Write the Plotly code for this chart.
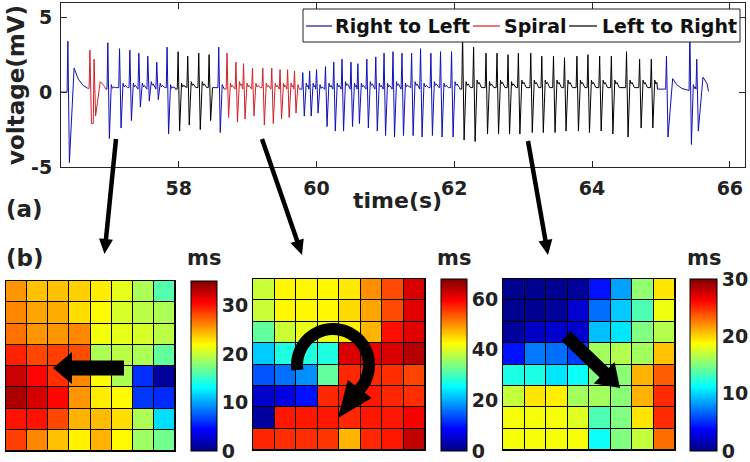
import math
import plotly.graph_objects as go

FONT = "DejaVu Sans"
W, H = 750, 462


def px(x):
    return x / W


def py(y):
    return 1 - y / H


# ---------------- Panel (a): voltage trace ----------------
# segments of the recording and the propagation mode of each
seg_start = [56.29, 56.68, 56.94, 57.95, 58.49, 58.66, 59.75, 62.08, 64.95]
seg_end = [56.68, 56.94, 57.95, 58.49, 58.66, 59.75, 62.08, 64.95, 65.69]
seg_mode = ["Right to Left", "Spiral", "Right to Left", "Left to Right", "Right to Left",
            "Spiral", "Right to Left", "Left to Right", "Right to Left"]
seg_v0 = [0.0, 0.25, 0.2, 0.2, 0.3, 0.2, 0.2, 0.2, 0.2]
seg_v1 = [0.25, 0.2, 0.2, 0.3, 0.2, 0.2, 0.2, 0.2, 0.05]

# beats: time of upstroke peak (s), peak (mV), trough (mV), after-bump (mV), slow decay flag
beat_t = [56.39, 56.71, 56.77, 56.97, 57.14, 57.29, 57.42, 57.55, 57.68, 57.83,
          57.99, 58.13, 58.29, 58.44, 58.58, 58.70, 58.83, 58.94, 59.07, 59.22,
          59.35, 59.47, 59.58, 59.68, 59.80, 59.90, 60.00, 60.13, 60.25, 60.37,
          60.50, 60.60, 60.73, 60.86, 60.98, 61.11, 61.24, 61.38, 61.51, 61.66,
          61.80, 61.96, 62.12, 62.28, 62.46, 62.62, 62.78, 62.93, 63.11, 63.27,
          63.44, 63.60, 63.78, 63.94, 64.11, 64.28, 64.50, 64.69, 64.86, 65.08,
          65.42, 65.52]
beat_peak = [3.4, 2.8, 2.2, 3.3, 2.9, 2.8, 2.6, 2.4, 2.0, 3.0,
             2.7, 2.4, 2.6, 2.5, 3.0, 2.6, 2.0, 1.9, 1.6, 1.6,
             1.6, 1.5, 1.5, 1.4, 1.3, 1.4, 1.5, 1.7, 2.0, 2.2,
             2.0, 1.9, 2.2, 2.35, 2.6, 2.7, 2.6, 2.6, 2.9, 2.6,
             2.7, 2.7, 3.9, 3.0, 2.6, 2.6, 2.5, 2.6, 2.6, 2.4,
             2.4, 2.3, 2.4, 2.5, 2.4, 2.4, 2.7, 2.2, 2.2, 2.4,
             4.0, 2.2]
beat_trough = [-4.7, -2.1, -1.6, -3.1, -2.4, -1.9, -1.0, -0.6, -0.5, -2.8,
               -2.6, -2.2, -2.5, -1.9, -2.7, -1.7, -2.0, -1.8, -1.6, -2.2,
               -2.1, -1.8, -1.7, -1.4, -1.6, -1.6, -1.4, -2.3, -2.6, -2.6,
               -2.3, -2.1, -2.4, -2.6, -2.9, -3.0, -2.9, -2.9, -3.0, -2.9,
               -3.0, -3.0, -3.2, -3.3, -2.8, -2.8, -2.8, -2.8, -2.7, -2.7,
               -2.7, -2.6, -2.6, -2.7, -2.6, -2.8, -3.0, -2.4, -2.4, -3.0,
               -3.5, -2.6]
beat_bump = [1.6, 0.6, 0.7, 0.5, 0.6, 0.6, 0.6, 0.7, 0.6, 0.5,
             0.6, 0.7, 0.7, 0.6, 0.5, 0.6, 0.7, 0.6, 0.6, 0.6,
             0.6, 0.6, 0.6, 0.5, 0.6, 0.6, 0.5, 0.6, 0.6, 0.7,
             0.6, 0.6, 0.7, 0.6, 0.6, 0.7, 0.6, 0.7, 0.6, 0.7,
             0.6, 0.7, 0.7, 0.8, 0.7, 0.8, 0.7, 0.8, 0.8, 0.8,
             0.8, 0.8, 0.8, 0.8, 0.8, 0.8, 0.8, 0.8, 0.8, 0.9,
             0.5, 1.0]
beat_slow = [1, 0, 1, 0, 0, 0, 0, 0, 0, 0,
             0, 0, 0, 0, 0, 0, 0, 0, 0, 0,
             0, 0, 0, 0, 0, 0, 0, 0, 0, 0,
             0, 0, 0, 0, 0, 0, 0, 0, 0, 0,
             0, 0, 0, 0, 0, 0, 0, 0, 0, 0,
             0, 0, 0, 0, 0, 0, 0, 0, 0, 1,
             0, 1]

mode_names = ["Right to Left", "Spiral", "Left to Right"]
mode_colors = {"Right to Left": "#1010b8", "Spiral": "#d42026", "Left to Right": "#000000"}

x_ticks = [58, 60, 62, 64, 66]
y_ticks = [-5, 0, 5]
y_ticklabels = ["-5", "0", "5"]

# ---------------- Panel (b): activation maps (ms) ----------------
map1 = [[25.5, 24, 24, 23.5, 22.5, 21, 19, 16],
        [26, 25, 24.7, 23, 22, 20.5, 19.5, 19],
        [26.7, 25.5, 25.5, 26, 21.5, 21, 20.5, 19.5],
        [29.5, 28.2, 28.5, 28, 19, 19.5, 19, 16.5],
        [32.5, 30.5, 29, 26, 22, 19, 6, 1],
        [33.5, 32, 30.5, 25.5, 22.5, 22, 6.3, 5.8],
        [30, 30, 28.2, 24.5, 24.2, 23, 19, 12],
        [28.5, 26, 24, 22.3, 24.5, 22, 18.5, 17]]
map2 = [[39, 43, 43, 43, 44, 50, 54.5, 62],
        [39, 43, 43, 43, 45, 48.5, 54.5, 61.5],
        [32, 39, 41, 41, 43.5, 47.5, 58.5, 61.5],
        [22, 27.5, 27.5, 27.5, 62, 61, 62, 64.5],
        [14, 16, 18, 32, 57, 57, 56.5, 55],
        [5, 6.5, 9.5, 57, 58, 58, 57, 56.5],
        [2, 58, 58, 58, 57, 58, 58, 60],
        [57, 56.5, 56.5, 56, 47.5, 57, 58, 63.5]]
map3 = [[0.5, 0.5, 0.5, 0.8, 4.2, 8.5, 15.5, 19.5],
        [0.5, 0.5, 0.8, 2.3, 7, 9.7, 13.5, 18.3],
        [0.8, 2, 2.3, 2.3, 9.4, 10.5, 15, 16.5],
        [4.2, 7.3, 7, 5.5, 16, 16.5, 16, 20.5],
        [12, 12, 10.5, 11.5, 15, 15.3, 21, 23.5],
        [17, 19.5, 19.2, 16, 16, 15.3, 21, 25],
        [18.5, 18.5, 18.5, 17.8, 13.5, 15, 19.5, 25],
        [18.5, 18.5, 18.5, 18.5, 11.5, 15, 17, 23]]
map_zmax = [35, 68, 30]
map_ticks = [[0, 10, 20, 30], [0, 20, 40, 60], [0, 10, 20, 30]]
grid_idx = [0, 1, 2, 3, 4, 5, 6, 7]

jet = [[0.0, "rgb(0,0,128)"], [0.125, "rgb(0,0,255)"], [0.375, "rgb(0,255,255)"],
       [0.625, "rgb(255,255,0)"], [0.875, "rgb(255,0,0)"], [1.0, "rgb(128,0,0)"]]


def segment_vertices(i):
    ts, te = seg_start[i], seg_end[i]
    xs, ys = [ts], [seg_v0[i]]
    idx = [k for k in range(len(beat_t)) if ts < beat_t[k] < te]
    for j, k in enumerate(idx):
        t = beat_t[k]
        nxt = beat_t[idx[j + 1]] - 0.013 if j + 1 < len(idx) else te
        base = ys[-1] if ys[-1] < 0.35 else 0.2
        core = [(t - 0.012, base), (t, beat_peak[k]), (t + 0.022, beat_trough[k])]
        b = beat_bump[k]
        if beat_slow[k]:
            tail = [(t + 0.09, b), (t + 0.15, 0.55 * b), (t + 0.22, 0.28 * b), (t + 0.3, 0.12 * b)]
        else:
            tail = [(t + 0.05, b), (t + 0.066, b - 0.25), (t + 0.08, b - 0.15), (t + 0.115, 0.3)]
        for (x, y) in core:
            xs.append(x)
            ys.append(y)
        for (x, y) in tail:
            if x < nxt - 0.004:
                xs.append(x)
                ys.append(y)
    xs.append(te)
    ys.append(seg_v1[i])
    return xs, ys


fig = go.Figure()

for name in mode_names:
    X, Y = [], []
    for i in range(len(seg_start)):
        if seg_mode[i] == name:
            xs, ys = segment_vertices(i)
            X += xs + [None]
            Y += ys + [None]
    fig.add_trace(go.Scatter(x=X, y=Y, mode="lines", name=name,
                             line=dict(color=mode_colors[name], width=1),
                             xaxis="x", yaxis="y", hoverinfo="skip", showlegend=False))

# heatmap geometry (pixels)
map_x = [(6, 175), (253, 425), (503, 675)]
map_y = [(281, 451), (279, 450), (279, 450)]
cb_x = [(191, 217), (441, 467), (690, 717)]
cb_y = [(281, 451), (279, 451), (279, 451)]
maps = [map1, map2, map3]

bold = dict(family=FONT, color="#222", weight="bold")
shapes = []
annotations = []
for i in range(3):
    ax = i + 2
    fig.add_trace(go.Heatmap(
        z=maps[i], x=grid_idx, y=grid_idx, zmin=0, zmax=map_zmax[i], colorscale=jet,
        xgap=1, ygap=1, xaxis=f"x{ax}", yaxis=f"y{ax}", hoverinfo="skip",
        colorbar=dict(x=px(cb_x[i][0]), xanchor="left", y=py(cb_y[i][1]), yanchor="bottom",
                      len=(cb_y[i][1] - cb_y[i][0]) / H, lenmode="fraction",
                      thickness=cb_x[i][1] - cb_x[i][0], thicknessmode="pixels",
                      xpad=0, ypad=0, outlinewidth=1, outlinecolor="black", borderwidth=0,
                      tickvals=map_ticks[i], ticks="",
                      tickfont=dict(size=19, **bold))))
    shapes.append(dict(type="rect", xref=f"x{ax}", yref=f"y{ax}", x0=-0.5, x1=7.5,
                       y0=-0.5, y1=7.5, fillcolor="black", line=dict(width=0), layer="below"))
    annotations.append(dict(x=px((cb_x[i][0] + cb_x[i][1]) / 2), y=py(258), xref="paper", yref="paper",
                            text="ms", showarrow=False, xanchor="center", yanchor="middle",
                            font=dict(size=21, **bold)))


def to_path(pts, close=True):
    s = "M " + " L ".join(f"{px(x):.5f},{py(y):.5f}" for x, y in pts)
    return s + (" Z" if close else "")


def arrow_pts(x0, y0, x1, y1, w, hw, hl):
    dx, dy = x1 - x0, y1 - y0
    L = math.hypot(dx, dy)
    ux, uy = dx / L, dy / L
    nx, ny = -uy, ux
    bx, by = x1 - ux * hl, y1 - uy * hl
    return [(x0 + nx * w / 2, y0 + ny * w / 2), (bx + nx * w / 2, by + ny * w / 2),
            (bx + nx * hw / 2, by + ny * hw / 2), (x1, y1),
            (bx - nx * hw / 2, by - ny * hw / 2), (bx - nx * w / 2, by - ny * w / 2),
            (x0 - nx * w / 2, y0 - ny * w / 2)]


# connector arrows from trace to maps, and arrows on the maps
arrows = [(116, 139, 104.5, 254, 4.5, 14, 15),
          (262, 139, 302, 255, 4.5, 14, 15),
          (528, 141, 548, 255, 4.5, 14, 15),
          (124, 368, 53, 368, 15, 32, 19),
          (566, 336, 620, 388, 13, 30, 22)]
for a in arrows:
    shapes.append(dict(type="path", xref="paper", yref="paper", path=to_path(arrow_pts(*a)),
                       fillcolor="black", line=dict(width=0)))

# circular (spiral) arrow on the middle map
cx, cy, r = 333, 365, 36
arc = []
for k in range(0, 47):
    ang = math.radians(188 - k * 5)
    arc.append((cx + r * math.cos(ang), cy - r * math.sin(ang)))
shapes.append(dict(type="path", xref="paper", yref="paper", path=to_path(arc, close=False),
                   line=dict(color="black", width=12), fillcolor="rgba(0,0,0,0)"))
ex, ey = arc[-1]
tipx, tipy = 338, 418
dx, dy = tipx - ex, tipy - ey
L = math.hypot(dx, dy)
nx, ny = -dy / L, dx / L
head = [(ex + nx * 15, ey + ny * 15), (tipx, tipy), (ex - nx * 15, ey - ny * 15)]
shapes.append(dict(type="path", xref="paper", yref="paper", path=to_path(head),
                   fillcolor="black", line=dict(width=0)))

# legend box (drawn over the trace, like the original)
shapes.append(dict(type="rect", xref="paper", yref="paper", x0=px(303), x1=px(740),
                   y0=py(42), y1=py(9), fillcolor="white", line=dict(color="#222", width=1)))
legend_line_x = [(306, 332), (473, 500), (569, 597)]
legend_text_x = [333, 502, 600]
for j, name in enumerate(mode_names):
    shapes.append(dict(type="line", xref="paper", yref="paper",
                       x0=px(legend_line_x[j][0]), x1=px(legend_line_x[j][1]),
                       y0=py(26), y1=py(26), line=dict(color=mode_colors[name], width=1.2)))
    annotations.append(dict(x=px(legend_text_x[j]), y=py(26), xref="paper", yref="paper",
                            text=name, showarrow=False, xanchor="left", yanchor="middle",
                            font=dict(size=19, family=FONT, color="#111", weight="bold")))

annotations += [
    dict(x=px(16), y=py(85), xref="paper", yref="paper", text="voltage(mV)", textangle=-90,
         showarrow=False, xanchor="center", yanchor="middle", font=dict(size=23, **bold)),
    dict(x=px(398), y=py(200), xref="paper", yref="paper", text="time(s)", showarrow=False,
         xanchor="center", yanchor="middle", font=dict(size=22, **bold)),
    dict(x=px(4), y=py(209), xref="paper", yref="paper", text="(a)", showarrow=False,
         xanchor="left", yanchor="middle", font=dict(size=23, **bold)),
    dict(x=px(4), y=py(258), xref="paper", yref="paper", text="(b)", showarrow=False,
         xanchor="left", yanchor="middle", font=dict(size=23, **bold)),
]

axis_line = "#262626"
layout = dict(
    width=W, height=H, margin=dict(l=0, r=0, t=0, b=0, autoexpand=False),
    paper_bgcolor="white", plot_bgcolor="white",
    showlegend=False,
    xaxis=dict(domain=[px(61), px(745)], range=[56.29, 66.22], tickvals=x_ticks,
               ticks="inside", ticklen=6, tickcolor=axis_line, showline=True, mirror="ticks",
               linecolor=axis_line, linewidth=1, showgrid=False, zeroline=False,
               tickfont=dict(size=19, **bold), anchor="y", ticklabelstandoff=4),
    yaxis=dict(domain=[py(167), py(3)], range=[-5, 5.95], tickvals=y_ticks, ticktext=y_ticklabels,
               ticks="inside", ticklen=6, tickcolor=axis_line, showline=True, mirror="ticks",
               linecolor=axis_line, linewidth=1, showgrid=False, zeroline=False,
               tickfont=dict(size=19, **bold), anchor="x", ticklabelstandoff=4),
    shapes=shapes, annotations=annotations,
)
for i in range(3):
    ax = i + 2
    layout[f"xaxis{ax}"] = dict(domain=[px(map_x[i][0]), px(map_x[i][1])], range=[-0.5, 7.5],
                                showticklabels=False, ticks="", showgrid=False, zeroline=False,
                                showline=True, mirror=True, linecolor="black", linewidth=1,
                                anchor=f"y{ax}", fixedrange=True)
    layout[f"yaxis{ax}"] = dict(domain=[py(map_y[i][1]), py(map_y[i][0])], range=[7.5, -0.5],
                                showticklabels=False, ticks="", showgrid=False, zeroline=False,
                                showline=True, mirror=True, linecolor="black", linewidth=1,
                                anchor=f"x{ax}", fixedrange=True)

fig.update_layout(**layout)
fig.write_html("out.html", config={"displayModeBar": False, "staticPlot": True},
               post_script="document.body.style.margin='0px';document.body.style.padding='0px';")
